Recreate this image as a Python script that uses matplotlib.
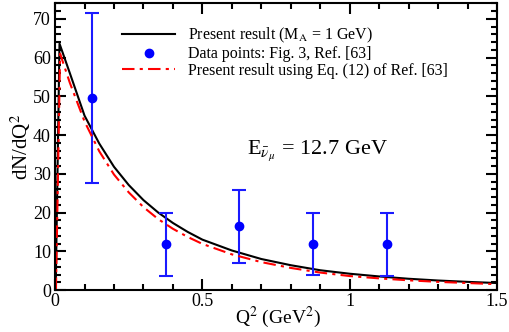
import numpy as np
import matplotlib
matplotlib.use('Agg')
import matplotlib.pyplot as plt
from matplotlib.ticker import MultipleLocator, FormatStrFormatter

plt.rcParams['font.family'] = ['Liberation Serif', 'DejaVu Serif']
plt.rcParams['mathtext.fontset'] = 'stix'

# present result (M_A = 1 GeV)
q2_black = [0.002, 0.015, 0.05, 0.1, 0.15, 0.2, 0.25, 0.3, 0.35, 0.4, 0.45, 0.5,
            0.6, 0.7, 0.8, 0.9, 1.0, 1.1, 1.2, 1.3, 1.4, 1.5]
dn_black = [0.0, 63.6, 56.0, 45.0, 37.8, 31.8, 27.1, 23.2, 20.0, 17.3, 15.0, 13.0,
            10.2, 8.0, 6.4, 5.1, 4.2, 3.5, 2.9, 2.45, 2.1, 1.8]

# present result using Eq. (12) of Ref. [63]
q2_red = [0.003, 0.017, 0.05, 0.1, 0.15, 0.2, 0.25, 0.3, 0.35, 0.4, 0.45, 0.5,
          0.6, 0.7, 0.8, 0.9, 1.0, 1.1, 1.2, 1.3, 1.4, 1.5]
dn_red = [0.0, 61.0, 53.5, 43.5, 35.8, 29.8, 25.2, 21.4, 18.3, 15.8, 13.7, 11.9,
          9.2, 7.2, 5.7, 4.5, 3.6, 3.0, 2.5, 2.1, 1.8, 1.5]

# data points: Fig. 3, Ref. [63]
q2_data = [0.125, 0.375, 0.625, 0.875, 1.125]
dn_data = [49.5, 12.0, 16.5, 11.9, 11.9]
err_lo = [27.7, 3.5, 7.0, 3.8, 3.5]
err_hi = [71.4, 20.0, 25.9, 19.9, 20.0]

yerr = [np.array(dn_data) - np.array(err_lo), np.array(err_hi) - np.array(dn_data)]

fig = plt.figure(figsize=(5.1, 3.32), dpi=100)
ax = fig.add_axes([0.108, 0.1265, 0.8665, 0.8635])

ax.plot(q2_black, dn_black, '-', color='k', lw=1.5, label='Present result (M$_{\\mathrm{A}}$ = 1 GeV)')
ax.errorbar(q2_data, dn_data, yerr=yerr, fmt='none', ecolor='#1a1aff', elinewidth=1.5,
            capsize=5, capthick=1.5)
ax.plot(q2_data, dn_data, 'o', color='#0000ff', ms=6, label='Data points: Fig. 3, Ref. [63]')
ax.plot(q2_red, dn_red, '-.', color='#ff0000', lw=1.5, dashes=(6, 2.5, 1.5, 2.5),
        label='Present result using Eq. (12) of Ref. [63]')

ax.set_xlim(0, 1.5)
ax.set_ylim(0, 74)
ax.xaxis.set_major_locator(MultipleLocator(0.5))
ax.xaxis.set_minor_locator(MultipleLocator(0.1))
ax.yaxis.set_major_locator(MultipleLocator(10))
ax.yaxis.set_minor_locator(MultipleLocator(2))
ax.xaxis.set_major_formatter(FormatStrFormatter('%g'))
ax.tick_params(which='both', direction='in', top=True, right=True, width=1.5, labelsize=13)
ax.tick_params(which='major', length=8)
ax.tick_params(axis='x', which='major', pad=2)
ax.tick_params(axis='y', which='major', pad=3)
ax.tick_params(which='minor', length=4)
for s in ax.spines.values():
    s.set_linewidth(1.5)

ax.set_xlabel('Q$^2$ (GeV$^2$)', fontsize=14, va='center')
ax.xaxis.set_label_coords(0.505, -0.095)
ax.set_ylabel('dN/dQ$^2$', fontsize=15, labelpad=0)

ax.text(0.652, 36, 'E$_{\\bar{\\nu}_{\\mu}}$ = 12.7 GeV', fontsize=16, va='center')

ax.legend(loc='upper left', bbox_to_anchor=(0.152, 0.92), frameon=False, fontsize=11.5,
          handlelength=3.3, handletextpad=0.8, labelspacing=0.05, borderpad=0, borderaxespad=0)

fig.savefig('out.png', dpi=100)
